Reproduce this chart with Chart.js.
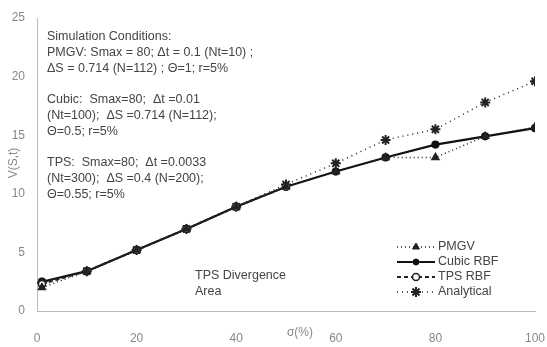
<!DOCTYPE html>
<html>
<head>
<meta charset="utf-8">
<script src="https://cdn.jsdelivr.net/npm/chart.js@4"></script>
<style>
  html, body { margin: 0; padding: 0; background: #fff; }
  #wrap { width: 547px; height: 347px; }
</style>
</head>
<body>
<div id="wrap"><canvas id="myChart" width="547" height="347"></canvas></div>
<script>
// values
const sigma = [1, 10, 20, 30, 40, 50, 60, 70, 80, 90, 100];
const pmgv = [2.0, 3.4, 5.2, 7.0, 8.9, 10.6, 11.9, 13.1, 13.1, 14.9, 15.7];
const cubic = [2.5, 3.4, 5.2, 7.0, 8.9, 10.6, 11.9, 13.1, 14.2, 14.9, 15.6];
const tpsSigma = [1, 10, 20, 30, 40, 50];
const tps = [2.3, 3.4, 5.2, 7.0, 8.9, 10.6];
const analytical = [2.4, 3.4, 5.2, 7.0, 8.9, 10.8, 12.6, 14.6, 15.5, 17.8, 19.6];

const notes = [
  "Simulation Conditions:",
  "PMGV: Smax = 80; \u0394t = 0.1 (Nt=10) ;",
  "\u0394S = 0.714 (N=112) ; \u0398=1; r=5%",
  "",
  "Cubic:  Smax=80;  \u0394t =0.01",
  "(Nt=100);  \u0394S =0.714 (N=112);",
  "\u0398=0.5; r=5%",
  "",
  "TPS:  Smax=80;  \u0394t =0.0033",
  "(Nt=300);  \u0394S =0.4 (N=200);",
  "\u0398=0.55; r=5%"
];

function pts(xs, ys) {
  return xs.map(function(x, i) { return { x: x, y: ys[i] }; });
}

var datasets = [
  { label: "PMGV", data: pts(sigma, pmgv), borderColor: "#222", backgroundColor: "#222",
    borderWidth: 1.5, borderDash: [1, 3], pointStyle: "triangle", pointRadius: 4 },
  { label: "TPS RBF", data: pts(tpsSigma, tps), borderColor: "#222", backgroundColor: "#fff",
    borderWidth: 2, borderDash: [4, 3], pointStyle: "circle", pointRadius: 3.5, pointBorderWidth: 1.5 },
  { label: "Analytical", data: pts(sigma, analytical), borderColor: "#222", backgroundColor: "#222",
    borderWidth: 1.5, borderDash: [1, 4], pointStyle: "star", pointRadius: 5, pointBorderWidth: 2 },
  { label: "Cubic RBF", data: pts(sigma, cubic), borderColor: "#111", backgroundColor: "#111",
    borderWidth: 2.2, pointStyle: "circle", pointRadius: 3 }
];

const legendOrder = ["PMGV", "Cubic RBF", "TPS RBF", "Analytical"];

var textPlugin = {
  id: "textPlugin",
  afterDraw: function(chart) {
    var ctx = chart.ctx;
    ctx.save();
    ctx.fillStyle = "#444";
    ctx.font = "12.5px 'Liberation Sans', Arial, sans-serif";
    ctx.textBaseline = "middle";
    ctx.textAlign = "left";
    var y = 37;
    notes.forEach(function(line) {
      if (line) ctx.fillText(line, 47, y);
      y += line ? 16 : 15;
    });
    ctx.fillText("TPS Divergence", 195, 276);
    ctx.fillText("Area", 195, 292);

    // axis titles
    ctx.fillStyle = "#888";
    ctx.font = "12px 'Liberation Sans', Arial, sans-serif";
    ctx.textAlign = "center";
    ctx.fillText("\u03c3(%)", 300, 333);
    ctx.save();
    ctx.translate(14, 163);
    ctx.rotate(-Math.PI / 2);
    ctx.fillText("V(S,t)", 0, 0);
    ctx.restore();

    // legend
    ctx.textAlign = "left";
    ctx.font = "12.5px 'Liberation Sans', Arial, sans-serif";
    legendOrder.forEach(function(name, i) {
      var ds = datasets.find(function(d) { return d.label === name; });
      var ly = 247 + i * 15;
      ctx.save();
      ctx.strokeStyle = ds.borderColor;
      ctx.lineWidth = ds.borderWidth;
      ctx.setLineDash(ds.borderDash || []);
      ctx.beginPath();
      ctx.moveTo(397, ly);
      ctx.lineTo(435, ly);
      ctx.stroke();
      ctx.restore();
      if (Chart.helpers && Chart.helpers.drawPoint) {
        ctx.save();
        ctx.strokeStyle = ds.borderColor;
        ctx.fillStyle = ds.backgroundColor;
        ctx.lineWidth = ds.pointBorderWidth || 1;
        Chart.helpers.drawPoint(ctx, { pointStyle: ds.pointStyle, radius: ds.pointRadius, rotation: 0, borderWidth: ds.pointBorderWidth || 1 }, 416, ly);
        ctx.restore();
      }
      ctx.fillStyle = "#444";
      ctx.fillText(name, 438, ly);
    });
    ctx.restore();
  }
};

new Chart("myChart", {
  type: "line",
  data: { datasets: datasets },
  plugins: [textPlugin],
  options: {
    responsive: false,
    animation: false,
    layout: { padding: { top: 18, right: 0, left: 0, bottom: 0 } },
    plugins: { legend: { display: false }, tooltip: { enabled: false } },
    scales: {
      x: {
        type: "linear", min: 0, max: 100,
        ticks: { stepSize: 20, color: "#888", padding: 12, maxRotation: 0,
                 font: { family: "'Liberation Sans', Arial, sans-serif", size: 12 } },
        grid: { display: false },
        border: { display: true, color: "#bbb", dash: [1, 2] },
        afterFit: function(s) { s.height = 36; s.paddingRight = 12; s.paddingLeft = 0; }
      },
      y: {
        min: 0, max: 25,
        ticks: { stepSize: 5, color: "#888", padding: 4,
                 font: { family: "'Liberation Sans', Arial, sans-serif", size: 12 } },
        grid: { display: false },
        border: { display: true, color: "#bbb", dash: [1, 2] },
        afterFit: function(s) { s.width = 37; }
      }
    }
  }
});
</script>
</body>
</html>
